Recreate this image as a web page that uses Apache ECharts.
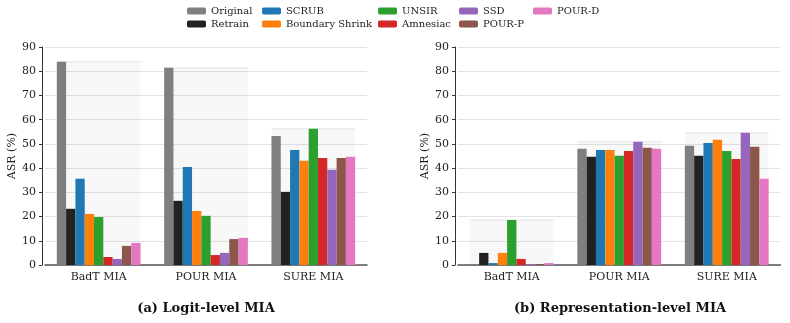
<!DOCTYPE html>
<html>
<head>
<meta charset="utf-8">
<script src="https://cdn.jsdelivr.net/npm/echarts@6/dist/echarts.min.js"></script>
<style>
  html, body { margin: 0; padding: 0; background: #fff; }
  #chart { width: 790px; height: 323px; }
</style>
</head>
<body>
<div id="chart"></div>
<script>
  const categories = ['BadT MIA', 'POUR MIA', 'SURE MIA'];
  const methods = ['Original', 'Retrain', 'SCRUB', 'Boundary Shrink', 'UNSIR', 'Amnesiac', 'SSD', 'POUR-P', 'POUR-D'];
  const colors = ['#7f7f7f', '#222222', '#1f77b4', '#ff7f0e', '#2ca02c', '#d62728', '#9467bd', '#8c564b', '#e377c2'];

  // (a) Logit-level MIA, one row per method: [BadT, POUR, SURE]
  const logitOriginal = [83.9, 81.4, 53.3];
  const logitRetrain = [23.2, 26.5, 30.2];
  const logitScrub = [35.6, 40.5, 47.5];
  const logitBoundary = [21.1, 22.3, 43.0];
  const logitUnsir = [19.8, 20.3, 56.2];
  const logitAmnesiac = [3.3, 4.1, 44.2];
  const logitSsd = [2.5, 5.0, 39.3];
  const logitPourP = [7.9, 10.7, 44.2];
  const logitPourD = [9.1, 11.2, 44.7];

  // (b) Representation-level MIA
  const reprOriginal = [0.2, 48.0, 49.2];
  const reprRetrain = [5.0, 44.7, 45.1];
  const reprScrub = [0.8, 47.5, 50.4];
  const reprBoundary = [5.0, 47.5, 51.7];
  const reprUnsir = [18.6, 45.1, 47.1];
  const reprAmnesiac = [2.5, 47.1, 43.8];
  const reprSsd = [0.4, 50.9, 54.6];
  const reprPourP = [0.4, 48.4, 48.8];
  const reprPourD = [0.8, 48.0, 35.6];

  const logitData = [logitOriginal, logitRetrain, logitScrub, logitBoundary, logitUnsir,
    logitAmnesiac, logitSsd, logitPourP, logitPourD];
  const reprData = [reprOriginal, reprRetrain, reprScrub, reprBoundary, reprUnsir,
    reprAmnesiac, reprSsd, reprPourP, reprPourD];

  const serif = '"DejaVu Serif", serif';
  const groupShare = 0.78;

  function groupMax(rows) {
    return categories.map((c, i) => [i, Math.max(...rows.map(r => r[i]))]);
  }

  // light box behind each group, as high as the tallest bar in it
  function shading(axisIndex, rows) {
    return {
      type: 'custom',
      xAxisIndex: axisIndex,
      yAxisIndex: axisIndex,
      silent: true,
      z: 1,
      data: groupMax(rows),
      renderItem: (params, api) => {
        const top = api.coord([api.value(0), api.value(1)]);
        const base = api.coord([api.value(0), 0]);
        const w = api.size([1, 0])[0] * groupShare;
        return {
          type: 'group',
          children: [{
            type: 'rect',
            shape: {x: top[0] - w / 2, y: top[1], width: w, height: base[1] - top[1]},
            style: {fill: 'rgba(0,0,0,0.028)'}
          }, {
            type: 'line',
            shape: {x1: top[0] - w / 2, y1: top[1], x2: top[0] + w / 2, y2: top[1]},
            style: {stroke: 'rgba(0,0,0,0.07)', lineWidth: 1.5}
          }]
        };
      }
    };
  }

  function barSeries(axisIndex, rows) {
    return methods.map((name, k) => ({
      name: name,
      type: 'bar',
      xAxisIndex: axisIndex,
      yAxisIndex: axisIndex,
      data: rows[k],
      z: 2,
      barGap: '0%',
      barCategoryGap: '22%',
      itemStyle: {color: colors[k]},
      animation: false
    }));
  }

  function makeX(gridIndex) {
    return {
      type: 'category',
      gridIndex: gridIndex,
      data: categories,
      axisLine: {lineStyle: {color: '#555', width: 1.5}},
      axisTick: {alignWithLabel: true, length: 4, lineStyle: {color: '#333'}},
      axisLabel: {color: '#222', fontFamily: serif, fontSize: 11, margin: 7}
    };
  }

  function makeY(gridIndex) {
    return {
      type: 'value',
      gridIndex: gridIndex,
      min: 0,
      max: 90,
      interval: 10,
      offset: 3,
      name: 'ASR (%)',
      nameLocation: 'middle',
      nameGap: 24,
      nameTextStyle: {color: '#222', fontFamily: serif, fontSize: 11},
      axisLine: {show: true, lineStyle: {color: '#333', width: 1}},
      axisTick: {show: true, length: 3, lineStyle: {color: '#333'}},
      axisLabel: {color: '#222', fontFamily: serif, fontSize: 11, margin: 6},
      splitLine: {lineStyle: {color: '#e3e3e3', width: 1}}
    };
  }

  // one legend per column, two rows, like the matplotlib ncol=5 layout
  const legendColumns = [
    {x: 182, names: ['Original', 'Retrain']},
    {x: 257, names: ['SCRUB', 'Boundary Shrink']},
    {x: 373, names: ['UNSIR', 'Amnesiac']},
    {x: 454, names: ['SSD', 'POUR-P']},
    {x: 528, names: ['POUR-D']}
  ];
  const legends = legendColumns.map(col => ({
    left: col.x,
    top: 1,
    orient: 'vertical',
    data: col.names,
    itemWidth: 19,
    itemHeight: 7,
    itemGap: 3,
    selectedMode: false,
    textStyle: {color: '#222', fontFamily: serif, fontSize: 10}
  }));

  const chart = echarts.init(document.getElementById('chart'));
  chart.setOption({
    animation: false,
    legend: legends,
    grid: [
      {left: 45, right: 423, top: 47, bottom: 58},
      {left: 458, right: 9.5, top: 47, bottom: 58}
    ],
    xAxis: [makeX(0), makeX(1)],
    yAxis: [makeY(0), makeY(1)],
    series: [
      shading(0, logitData),
      shading(1, reprData),
      ...barSeries(0, logitData),
      ...barSeries(1, reprData)
    ],
    graphic: [{
      type: 'text',
      x: 206,
      y: 302,
      style: {text: '(a) Logit-level MIA', align: 'center', font: 'bold 13px ' + serif, fill: '#111'}
    }, {
      type: 'text',
      x: 620,
      y: 302,
      style: {text: '(b) Representation-level MIA', align: 'center', font: 'bold 13px ' + serif, fill: '#111'}
    }]
  });
</script>
</body>
</html>
